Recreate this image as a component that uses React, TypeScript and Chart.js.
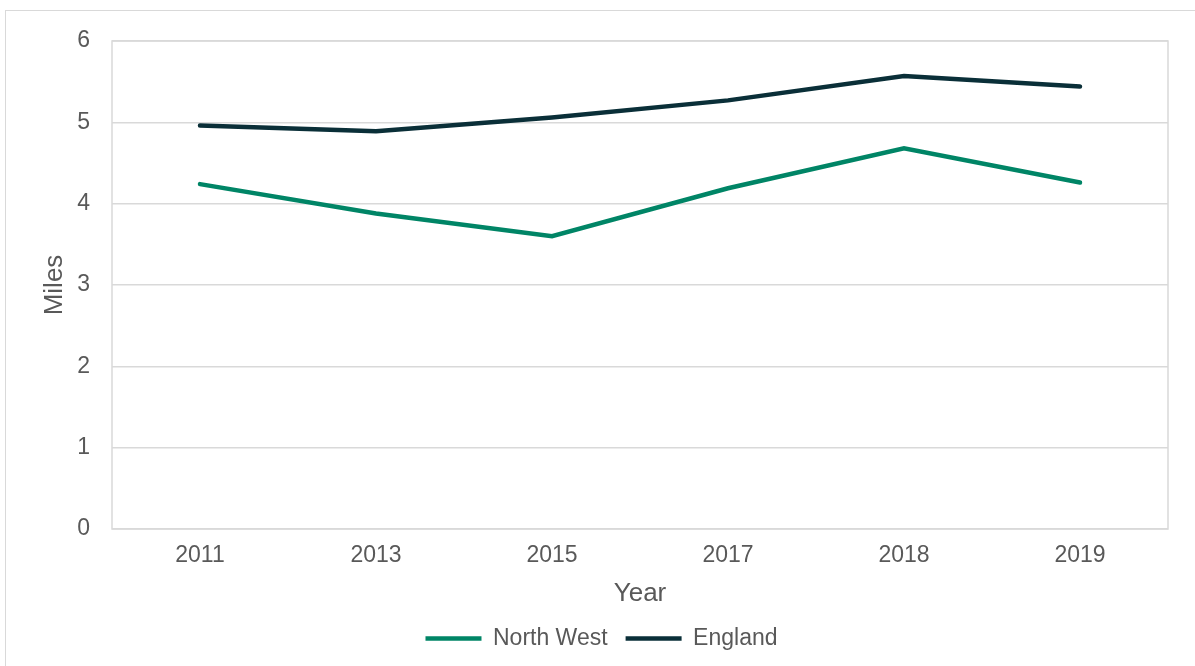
import React, { useEffect, useRef } from "react";
import { Chart, registerables } from "chart.js";

Chart.register(...registerables);

const years = ["2011", "2013", "2015", "2017", "2018", "2019"];
const northWest = [4.24, 3.88, 3.6, 4.19, 4.68, 4.26];
const england = [4.96, 4.89, 5.06, 5.27, 5.57, 5.44];
const yMin = 0;
const yMax = 6;
const yStep = 1;

const GRID = "#d9d9d9";
const TEXT = "#595959";
const FONT = "'Liberation Sans', Arial, sans-serif";

const plotBox = {
  id: "plotBox",
  beforeDatasetsDraw(chart: any) {
    const { ctx, chartArea } = chart;
    ctx.save();
    ctx.strokeStyle = GRID;
    ctx.lineWidth = 1.5;
    ctx.strokeRect(chartArea.left, chartArea.top, chartArea.right - chartArea.left, chartArea.bottom - chartArea.top);
    ctx.restore();
  },
};

export default function App() {
  const ref = useRef<HTMLCanvasElement | null>(null);
  useEffect(() => {
    if (!ref.current) return;
    const chart = new Chart(ref.current, {
      type: "line",
      data: {
        labels: years,
        datasets: [
          {
            label: "North West",
            data: northWest,
            borderColor: "#008566",
            backgroundColor: "#008566",
            borderWidth: 4.5,
            borderCapStyle: "round",
            pointRadius: 0,
            tension: 0,
          },
          {
            label: "England",
            data: england,
            borderColor: "#0a2f38",
            backgroundColor: "#0a2f38",
            borderWidth: 4.5,
            borderCapStyle: "round",
            pointRadius: 0,
            tension: 0,
          },
        ],
      },
      options: {
        animation: false,
        responsive: false,
        maintainAspectRatio: false,
        layout: { padding: { left: 35, right: 27, top: 41, bottom: 6 } },
        plugins: {
          tooltip: { enabled: false },
          legend: {
            position: "bottom",
            labels: {
              usePointStyle: true,
              pointStyle: "line",
              pointStyleWidth: 56,
              color: TEXT,
              font: { family: FONT, size: 23 },
              padding: 18,
            },
          },
        },
        scales: {
          x: {
            type: "category",
            offset: true,
            grid: { display: false, drawTicks: false },
            border: { display: false },
            ticks: { color: TEXT, font: { family: FONT, size: 23 }, padding: 13 },
            title: { display: true, text: "Year", color: TEXT, font: { family: FONT, size: 26 }, padding: { top: 0, bottom: 0 } },
            afterFit: (scale: any) => {
              scale.height = 80;
            },
          },
          y: {
            min: yMin,
            max: yMax,
            ticks: { stepSize: yStep, color: TEXT, font: { family: FONT, size: 23 }, padding: 22 },
            grid: { color: GRID, lineWidth: 1.5, drawTicks: false },
            border: { display: false },
            title: { display: true, text: "Miles", color: TEXT, font: { family: FONT, size: 26 } },
            afterFit: (scale: any) => {
              scale.width = 77;
            },
          },
        },
      },
      plugins: [plotBox],
    });
    return () => chart.destroy();
  }, []);
  return (
    <div style={{ position: "fixed", left: 0, top: 0, width: 1195, height: 666, background: "#fff" }}>
      <div
        style={{
          position: "absolute",
          left: 5,
          top: 10,
          width: 1200,
          height: 700,
          borderLeft: `1.5px solid ${GRID}`,
          borderTop: `1.5px solid ${GRID}`,
        }}
      />
      <canvas ref={ref} width={1195} height={666} style={{ position: "absolute", left: 0, top: 0 }} />
    </div>
  );
}
